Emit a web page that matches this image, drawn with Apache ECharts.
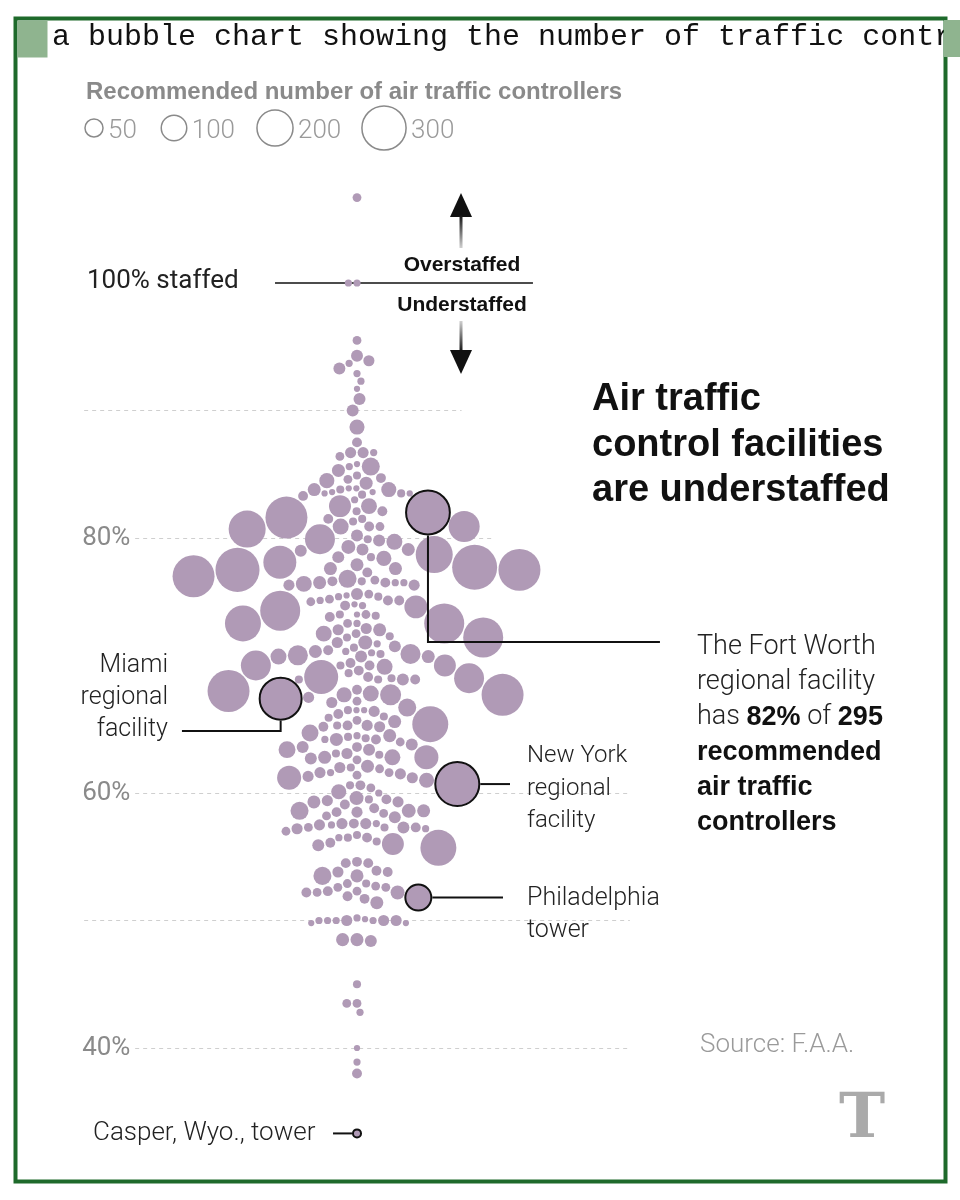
<!DOCTYPE html>
<html><head><meta charset="utf-8">
<script src="https://cdn.jsdelivr.net/npm/echarts@6/dist/echarts.min.js"></script>
<style>html,body{margin:0;padding:0;background:#fff}#c{width:960px;height:1200px}</style>
</head><body><div id="c"></div>
<script>
// ---- data: share of recommended controllers on staff (%) and recommended head count ----
const staffedPct = [
 106.7,100.0,100.0,95.5,94.3,93.9,93.7,93.3,92.9,92.3,
 91.7,90.9,90.0,88.7,87.5,86.7,86.7,86.4,85.6,86.7,
 85.8,85.3,85.6,84.5,84.3,84.6,83.8,84.7,84.9,83.8,
 83.3,83.5,83.8,83.5,83.6,83.9,83.9,83.6,83.4,83.5,
 82.5,82.5,83.0,82.1,82.1,81.6,80.7,80.9,81.5,81.5,
 81.3,80.9,80.9,78.7,77.7,79.1,79.7,79.9,80.9,79.3,
 79.1,79.9,80.2,79.8,79.0,78.5,78.4,77.6,77.0,77.6,
 78.1,77.5,77.5,78.5,77.9,77.3,76.3,76.4,76.8,76.7,
 76.6,76.5,76.6,76.5,76.3,76.5,76.5,75.1,74.7,75.5,
 74.3,74.8,75.0,75.4,75.4,75.6,75.2,75.6,74.7,75.1,
 75.1,74.6,73.9,74.0,74.0,73.8,74.0,73.3,73.3,72.8,
 72.3,72.8,73.3,72.5,72.2,72.9,73.3,72.2,72.5,71.8,
 71.8,70.8,71.7,70.9,70.7,71.5,71.4,71.2,71.1,70.7,
 71.0,70.9,70.7,71.1,70.2,69.0,69.4,68.0,67.7,70.0,
 69.6,70.0,68.9,69.9,70.0,69.1,69.1,70.0,68.9,68.9,
 68.9,69.0,68.1,67.5,66.7,67.8,67.1,67.2,66.4,66.2,
 67.7,67.7,65.4,66.5,66.0,66.5,65.3,65.3,65.2,65.9,
 66.5,65.6,64.7,65.7,65.3,64.2,65.2,64.5,64.5,63.6,
 63.4,63.8,64.0,64.3,64.2,64.4,64.2,63.6,62.7,62.8,
 63.4,62.8,62.6,62.8,63.1,63.1,63.0,61.9,62.1,61.5,
 61.2,62.0,61.3,61.6,61.0,61.6,61.6,61.4,62.0,61.2,
 60.1,60.0,60.6,60.6,60.4,59.3,59.6,59.1,59.3,59.4,
 58.8,58.6,58.6,59.5,59.5,58.5,58.6,58.5,58.2,58.1,
 58.4,57.3,57.6,57.0,57.2,57.3,57.6,57.3,57.6,57.5,
 57.3,57.6,57.5,57.2,56.1,56.0,56.2,56.5,55.9,56.7,
 56.5,56.5,55.7,54.5,54.5,54.6,53.5,53.5,53.8,53.8,
 53.9,52.3,52.6,52.6,52.9,51.9,52.2,52.7,51.7,52.2,
 52.3,52.9,52.2,51.4,50.0,50.0,50.0,50.0,49.8,50.2,
 49.8,50.1,50.0,50.0,50.0,48.5,48.5,48.4,45.0,43.5,
 43.5,42.8,40.0,38.9,38.0];
const recommended = [
 12,8,8,12,22,19,8,22,8,8,
 6,22,22,35,15,19,19,12,50,8,
 6,26,8,35,26,12,35,15,10,26,
 15,10,10,6,6,6,6,6,10,6,
 39,74,8,10,15,271,211,148,15,10,
 10,15,39,211,311,26,39,138,12,30,
 22,10,22,22,22,10,35,26,271,26,
 167,298,271,22,26,15,19,39,50,12,
 15,15,10,26,19,8,8,15,8,6,
 246,6,12,8,10,22,12,12,15,8,
 15,81,10,6,12,15,10,246,199,19,
 10,26,8,12,10,19,12,246,39,30,
 19,62,8,10,26,22,10,15,26,22,
 8,62,39,8,15,138,10,271,271,15,
 15,74,22,39,10,15,178,138,15,10,
 10,10,15,19,50,39,19,12,19,15,
 35,68,199,6,10,6,15,19,19,10,
 10,26,44,12,10,26,15,8,26,15,
 44,22,12,10,15,10,8,22,22,26,
 22,89,12,39,19,10,10,12,26,19,
 89,10,19,8,35,12,19,12,19,19,
 35,8,15,10,12,19,30,15,26,19,
 15,30,50,10,15,19,26,15,12,22,
 12,10,15,12,19,22,19,12,19,19,
 15,8,8,8,15,74,10,10,22,10,
 15,8,199,15,15,15,26,50,19,15,
 15,12,12,12,12,15,30,12,15,12,
 15,10,15,26,19,8,8,19,6,8,
 6,6,8,19,8,26,26,22,10,12,
 12,8,6,8,15];
// highlighted facilities
const calloutNames = ['Fort Worth regional facility','Miami regional facility','New York regional facility','Philadelphia tower','Casper, Wyo., tower'];
const calloutPct = [82.0, 67.4, 60.7, 51.8, 33.3];
const calloutCount = [295, 271, 298, 104, 10];
// axis / legend
const yTickLabels = [40, 60, 80];
const gridPcts = [90, 80, 60, 50, 40];
const legendValues = [50, 100, 200, 300];

// ---- geometry ----
const K = 12.75;                 // px per percentage point (both axes)
const Y_MIN = 30, Y_MAX = 110, X_HALF = 21.4;
const CX = 357, Y100 = 283;
const GRID = {left: CX - X_HALF*K, top: Y100 - (Y_MAX-100)*K, width: 2*X_HALF*K, height: (Y_MAX-Y_MIN)*K};
function diam(n){ return 2.55*Math.sqrt(n); }

// ---- beeswarm (dodge) layout: y fixed at value, x as near centre as free ----
const items = [];
staffedPct.forEach((p,i)=>items.push({pct:p, n:recommended[i], callout:-1}));
calloutPct.forEach((p,i)=>items.push({pct:p, n:calloutCount[i], callout:i}));
const order = items.map((d,i)=>i).sort((a,b)=> (items[b].pct-items[a].pct) || (a-b));
const PAD = 1.4;
const placed = [];
order.forEach((idx,k)=>{
  const d = items[idx]; const r = diam(d.n)/2; const y = d.pct*K;
  const ivs = [], cands = [0];
  for (const p of placed){
    const dy = y-p.y, R = r+p.r+PAD;
    if (Math.abs(dy) < R){ const dx = Math.sqrt(R*R-dy*dy); ivs.push([p.x-dx,p.x+dx]); cands.push(p.x-dx,p.x+dx); }
  }
  const sgn = (k%2===0)?-1:1;
  cands.sort((a,b)=> (Math.abs(a)-Math.abs(b)) || ((Math.sign(b)===sgn)-(Math.sign(a)===sgn)));
  let x = 0;
  for (const c of cands){ if (!ivs.some(iv=> c>iv[0]+1e-6 && c<iv[1]-1e-6)){ x=c; break; } }
  d.x = x/K; placed.push({x, y, r});
});

const scatterData = items.map(d=>{
  const o = {value:[d.x, d.pct, d.n]};
  if (d.callout>=0) o.itemStyle = {borderColor:'#111', borderWidth:2};
  return o;
});

// gridlines
const gridEnds = {90: 8.2, 80: 10.8};
const gridData = gridPcts.map(p=>({coords:[[yTickLabels.includes(p)?-17.4:-X_HALF, p],[gridEnds[p]!==undefined?gridEnds[p]:X_HALF, p]]}));
gridData.push({coords:[[-6.43,100],[13.8,100]], lineStyle:{type:'solid', color:'#111', width:1.5}});

// callout leader lines (data coordinates)
const cl = items.filter(d=>d.callout>=0).sort((a,b)=>a.callout-b.callout);
const ru = d=> (diam(d.n)/2+1)/K;
const leader = [
  [[cl[0].x, cl[0].pct-ru(cl[0])],[cl[0].x, 71.84],[23.76, 71.84]],
  [[cl[1].x, cl[1].pct-ru(cl[1])],[cl[1].x, 64.86],[-13.73, 64.86]],
  [[cl[2].x+ru(cl[2]), cl[2].pct],[12.0, cl[2].pct]],
  [[cl[3].x+ru(cl[3]), cl[3].pct],[11.45, cl[3].pct]],
  [[-1.88, cl[4].pct],[cl[4].x-ru(cl[4]), cl[4].pct]]
].map(c=>({coords:c}));

// ---- graphic helpers ----
const G = [];
function T(text, x, base, size, font, color, align, k){
  G.push({type:'text', z:50, style:{text, x, y: base-(k===undefined?0.25:k)*size, font: font.replace('%s', size+'px'), fill: color,
    align: align||'left', textAlign: align||'left', verticalAlign:'middle', textVerticalAlign:'middle'}});
}
const LIGHT = '300 %s Roboto', REG = '400 %s Roboto', BOLD = 'bold %s "Liberation Sans", Arial, sans-serif';
// frame & caption
G.push({type:'rect', z:60, shape:{x:15.5,y:18.5,width:930,height:1163}, style:{fill:'none', stroke:'#1e6a2b', lineWidth:4}});
T('a bubble chart showing the number of traffic controllers', 52, 48, 30, '400 %s "Liberation Mono", monospace', '#111', 'left', 0.35);
G.push({type:'rect', z:61, shape:{x:944,y:20,width:16,height:37}, style:{fill:'#8fb48f'}});
G.push({type:'rect', z:61, shape:{x:17.5,y:20.5,width:30,height:37}, style:{fill:'#8fb48f'}});
// legend
T('Recommended number of air traffic controllers', 86, 98, 24, BOLD, '#8a8a8a');
const legendCx = [94, 174, 275, 384];
legendValues.forEach((v,i)=>{
  const r = diam(v)/2;
  G.push({type:'circle', z:50, shape:{cx:legendCx[i], cy:128, r}, style:{fill:'none', stroke:'#8a8a8a', lineWidth:1.5}});
  T(String(v), legendCx[i]+r+5, 138, 26, LIGHT, '#9a9a9a');
});
// title
T('Air traffic', 592, 409, 38, BOLD, '#111');
T('control facilities', 592, 455, 38, BOLD, '#111');
T('are understaffed', 592, 500, 38, BOLD, '#111');
// Fort Worth annotation
T('The Fort Worth', 697, 654, 27, LIGHT, '#222');
T('regional facility', 697, 689, 27, LIGHT, '#222');
G.push({type:'text', z:50, style:{text:'{l|has }{b|82%}{l| of }{b|295}', x:697, y:724-0.25*27, align:'left', verticalAlign:'middle',
  rich:{l:{fontSize:27, fontWeight:300, fontFamily:'Roboto', fill:'#222'}, b:{fontSize:27, fontWeight:'bold', fontFamily:'"Liberation Sans", Arial', fill:'#111'}}}});
T('recommended', 697, 759, 27, BOLD, '#111');
T('air traffic', 697, 794, 27, BOLD, '#111');
T('controllers', 697, 829, 27, BOLD, '#111');
// other labels
T('100% staffed', 87, 288, 26, REG, '#222');
T('Miami', 168, 672, 25, LIGHT, '#222', 'right');
T('regional', 168, 704, 25, LIGHT, '#222', 'right');
T('facility', 168, 736, 25, LIGHT, '#222', 'right');
T('New York', 527, 762, 24, LIGHT, '#222');
T('regional', 527, 795, 24, LIGHT, '#222');
T('facility', 527, 827, 24, LIGHT, '#222');
T('Philadelphia', 527, 905, 25, LIGHT, '#222');
T('tower', 527, 937, 25, LIGHT, '#222');
T('Casper, Wyo., tower', 93, 1140, 26, LIGHT, '#222');
T('Source: F.A.A.', 700, 1052, 26, LIGHT, '#9a9a9a');
T('Overstaffed', 462, 270, 21, BOLD, '#111', 'center');
T('Understaffed', 462, 310, 21, BOLD, '#111', 'center');
// arrows
G.push({type:'polygon', z:50, shape:{points:[[461,193],[450,217],[472,217]]}, style:{fill:'#111'}});
G.push({type:'rect', z:50, shape:{x:459.5,y:215,width:3,height:33}, style:{fill:new echarts.graphic.LinearGradient(0,0,0,1,[{offset:0,color:'#111'},{offset:1,color:'#d0d0d0'}])}});
G.push({type:'rect', z:50, shape:{x:459.5,y:321,width:3,height:31}, style:{fill:new echarts.graphic.LinearGradient(0,0,0,1,[{offset:0,color:'#d0d0d0'},{offset:1,color:'#111'}])}});
G.push({type:'polygon', z:50, shape:{points:[[450,350],[472,350],[461,374]]}, style:{fill:'#111'}});
// logo
T('T', 862, 1136, 62, 'bold %s "DejaVu Serif", serif', '#aaaaaa', 'center');

const chart = echarts.init(document.getElementById('c'), null, {renderer:'canvas'});
chart.setOption({
  animation:false,
  backgroundColor:'#fff',
  grid: GRID,
  xAxis:{type:'value', min:-X_HALF, max:X_HALF, show:false},
  yAxis:{type:'value', min:Y_MIN, max:Y_MAX, interval:10, axisLine:{show:false}, axisTick:{show:false}, splitLine:{show:false},
    axisLabel:{inside:true, margin:-2, color:'#8a8a8a', fontSize:26, fontFamily:'Roboto', fontWeight:400,
      formatter: v=> yTickLabels.includes(v) ? v+'%' : ''}},
  series:[
    {type:'lines', coordinateSystem:'cartesian2d', z:1, silent:true, clip:false,
     lineStyle:{type:[4,4], color:'#cfcfcf', width:1, opacity:1}, data:gridData},
    {type:'scatter', z:3, silent:true, data:scatterData, symbolSize: v=>diam(v[2]),
     itemStyle:{color:'#b09ab6', opacity:1}},
    {type:'lines', coordinateSystem:'cartesian2d', polyline:true, z:4, silent:true, clip:false,
     lineStyle:{color:'#111', width:2, opacity:1}, data:leader}
  ],
  graphic: G
});
</script></body></html>
